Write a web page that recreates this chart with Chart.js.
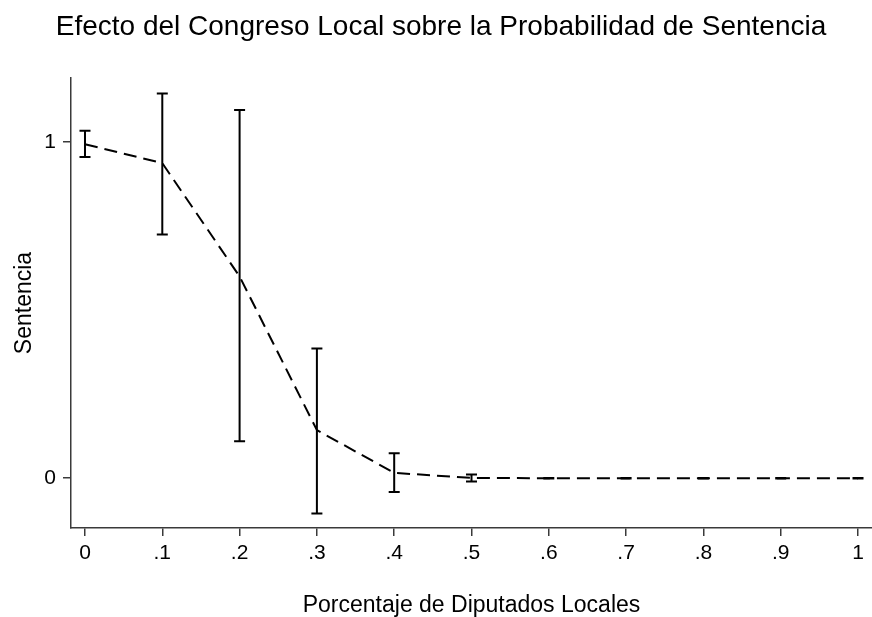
<!DOCTYPE html>
<html>
<head>
<meta charset="utf-8">
<script src="https://cdn.jsdelivr.net/npm/chart.js@4.4.1/dist/chart.umd.min.js"></script>
<style>
  html, body { margin: 0; padding: 0; background: #fff; }
  #wrap { width: 872px; height: 617px; }
</style>
</head>
<body>
<div id="wrap"><canvas id="c" width="872" height="617"></canvas></div>
<script>
// ---- data ----
const xValues   = [0, 0.1, 0.2, 0.3, 0.4, 0.5, 0.6, 0.7, 0.8, 0.9, 1.0];
const predicted = [0.993, 0.937, 0.600, 0.143, 0.016, 0.001, 0.0, 0.0, 0.0, 0.0, 0.0];
const ciUpper   = [1.033, 1.144, 1.095, 0.386, 0.074, 0.011, 0.001, 0.001, 0.001, 0.001, 0.001];
const ciLower   = [0.955, 0.725, 0.110, -0.105, -0.041, -0.010, -0.001, -0.001, -0.001, -0.001, -0.001];

const xTickValues = [0, 0.1, 0.2, 0.3, 0.4, 0.5, 0.6, 0.7, 0.8, 0.9, 1.0];
const xTickLabels = ["0", ".1", ".2", ".3", ".4", ".5", ".6", ".7", ".8", ".9", "1"];
const yTickValues = [0, 1];
const yTickLabels = ["0", "1"];

const titleText  = "Efecto del Congreso Local sobre la Probabilidad de Sentencia";
const xTitleText = "Porcentaje de Diputados Locales";
const yTitleText = "Sentencia";

const FONT = "'Liberation Sans', Arial, Helvetica, sans-serif";
const AXIS_COLOR = '#3a3a3a';

const points = xValues.map((x, i) => ({ x: x, y: predicted[i] }));

const errorBarPlugin = {
  id: 'errorBars',
  afterDatasetsDraw(chart) {
    const ctx = chart.ctx;
    const xs = chart.scales.x, ys = chart.scales.y;
    ctx.save();
    ctx.strokeStyle = '#000';
    ctx.lineWidth = 2;
    ctx.lineCap = 'butt';
    const half = 5.5;
    xValues.forEach((xv, i) => {
      const px = xs.getPixelForValue(xv);
      const pTop = ys.getPixelForValue(ciUpper[i]);
      const pBot = ys.getPixelForValue(ciLower[i]);
      ctx.beginPath();
      ctx.moveTo(px, pTop); ctx.lineTo(px, pBot);
      ctx.moveTo(px - half, pTop); ctx.lineTo(px + half, pTop);
      ctx.moveTo(px - half, pBot); ctx.lineTo(px + half, pBot);
      ctx.stroke();
    });
    ctx.restore();
  }
};

new Chart(document.getElementById('c'), {
  type: 'scatter',
  data: {
    datasets: [{
      data: points,
      showLine: true,
      borderColor: '#000',
      borderWidth: 2,
      borderDash: [13, 7],
      pointRadius: 0,
      tension: 0,
      fill: false
    }]
  },
  options: {
    responsive: false,
    animation: false,
    layout: { padding: { left: 10, right: 0, top: 0, bottom: 0 } },
    plugins: {
      legend: { display: false },
      tooltip: { enabled: false },
      title: {
        display: true,
        text: titleText,
        color: '#000',
        font: { family: FONT, size: 28, weight: 'normal', lineHeight: 1.2 },
        padding: { top: 10.2, bottom: 34.2 }
      }
    },
    scales: {
      x: {
        type: 'linear',
        min: -0.0181,
        max: 1.0181,
        afterFit(scale) { scale.height = 89; },
        afterBuildTicks(scale) { scale.ticks = xTickValues.map(v => ({ value: v })); },
        ticks: {
          autoSkip: false,
          maxRotation: 0,
          padding: 5,
          color: '#000',
          font: { family: FONT, size: 21 },
          callback(value) {
            const i = xTickValues.findIndex(v => Math.abs(v - value) < 1e-9);
            return i >= 0 ? xTickLabels[i] : '';
          }
        },
        grid: { display: true, drawOnChartArea: false, drawTicks: true, tickLength: 8, color: AXIS_COLOR, lineWidth: 1.5 },
        border: { display: true, color: AXIS_COLOR, width: 1.5 },
        title: {
          display: true,
          text: xTitleText,
          color: '#000',
          font: { family: FONT, size: 23, lineHeight: 1.0 },
          padding: { top: 1.5, bottom: 0 }
        }
      },
      y: {
        type: 'linear',
        min: -0.148,
        max: 1.190,
        afterFit(scale) { scale.width = 61; },
        afterBuildTicks(scale) { scale.ticks = yTickValues.map(v => ({ value: v })); },
        ticks: {
          autoSkip: false,
          padding: 7,
          color: '#000',
          font: { family: FONT, size: 21 },
          callback(value) {
            const i = yTickValues.findIndex(v => Math.abs(v - value) < 1e-9);
            return i >= 0 ? yTickLabels[i] : '';
          }
        },
        grid: { display: true, drawOnChartArea: false, drawTicks: true, tickLength: 8, color: AXIS_COLOR, lineWidth: 1.5 },
        border: { display: true, color: AXIS_COLOR, width: 1.5 },
        title: {
          display: true,
          text: yTitleText,
          color: '#000',
          font: { family: FONT, size: 23, lineHeight: 1.0 },
          padding: { top: 3.5, bottom: 0 }
        }
      }
    }
  },
  plugins: [errorBarPlugin]
});
</script>
</body>
</html>
